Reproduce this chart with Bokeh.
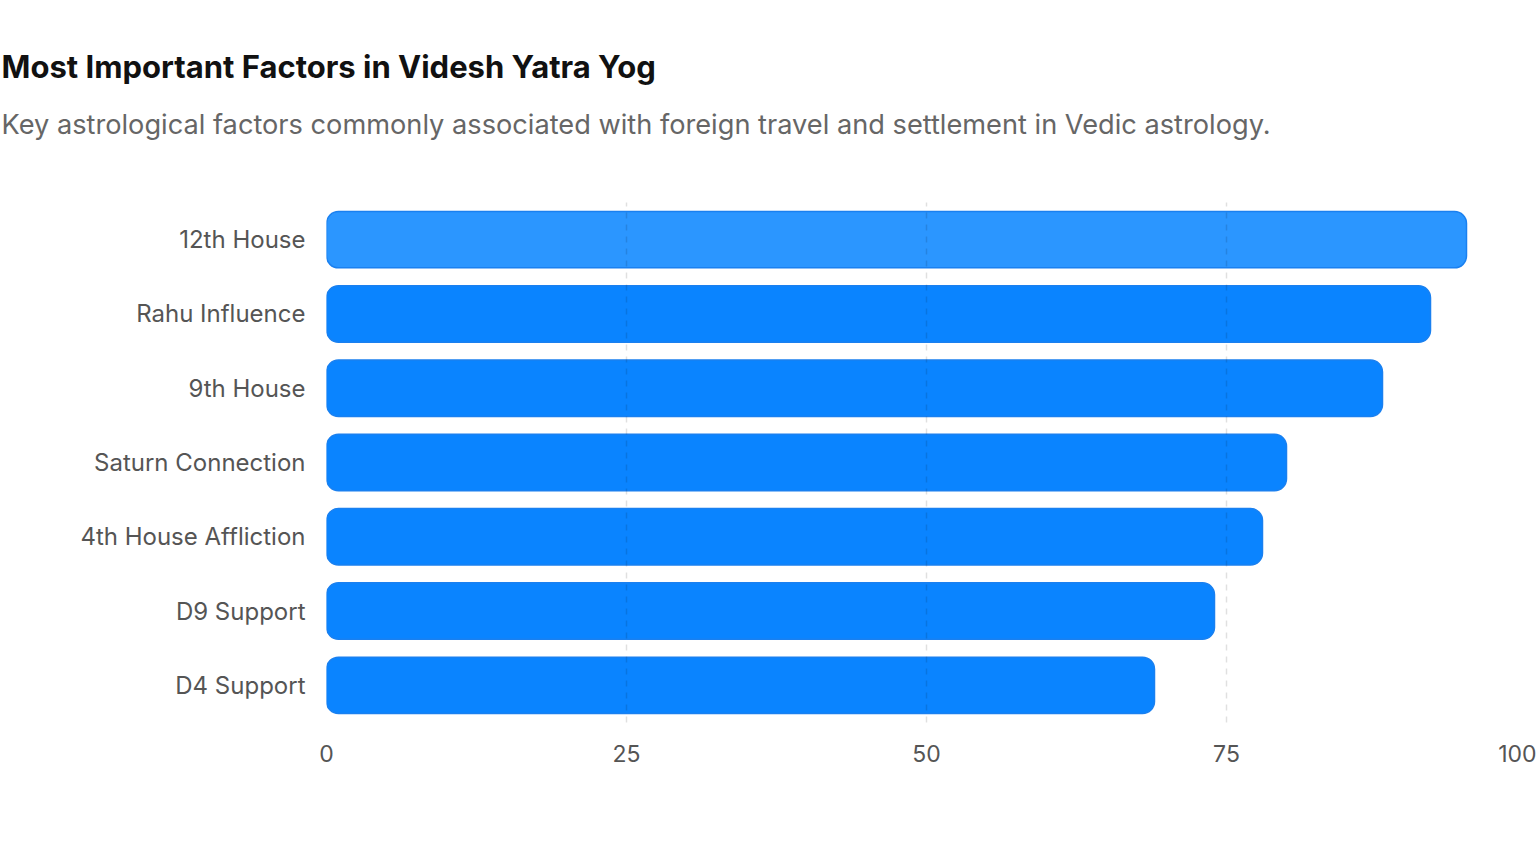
from bokeh.embed import file_html
from bokeh.models import FactorRange, FixedTicker, Range1d, Title
from bokeh.plotting import figure
from bokeh.resources import INLINE

# --- data ---
factors = [
    "12th House",
    "Rahu Influence",
    "9th House",
    "Saturn Connection",
    "4th House Affliction",
    "D9 Support",
    "D4 Support",
]
scores = [95, 92, 88, 80, 78, 74, 69]
x_ticks = [0, 25, 50, 75, 100]

title_text = "Most Important Factors in Videsh Yatra Yog"
subtitle_text = (
    "Key astrological factors commonly associated with foreign travel "
    "and settlement in Vedic astrology."
)

FONT = "Inter"
fills = ["#2B96FF"] + ["#0A84FF"] * (len(factors) - 1)

# --- figure ---
p = figure(
    width=1536,
    height=848,
    y_range=FactorRange(factors=factors[::-1], range_padding=0),
    x_range=Range1d(0, 100),
    output_backend="svg",
    toolbar_location=None,
    min_border_left=326,
    min_border_right=10,
    min_border_bottom=126,
    min_border_top=202,
)
p.outline_line_color = None
p.background_fill_color = "white"
p.border_fill_color = "white"

# header: spacer, subtitle, title (stacked upwards from the plot)
p.add_layout(Title(text=" ", text_font_size="1px", standoff=48), "above")
p.add_layout(
    Title(
        text=subtitle_text,
        text_font=FONT,
        text_font_size="27.2px",
        text_font_style="normal",
        text_color="#666666",
        align="left",
        offset=-325,
        standoff=21,
    ),
    "above",
)
p.add_layout(
    Title(
        text=title_text,
        text_font=FONT,
        text_font_size="31px",
        text_font_style="bold",
        text_color="#111111",
        align="left",
        offset=-325,
        standoff=21,
    ),
    "above",
)

# bars
p.hbar(
    y=factors,
    right=scores,
    left=0,
    height=0.76,
    fill_color=fills,
    line_color="#1A80F0",
    line_width=1.5,
    border_radius=12,
)

# x axis
p.xaxis.ticker = FixedTicker(ticks=x_ticks)
p.xaxis.axis_line_color = None
p.xaxis.major_tick_line_color = None
p.xaxis.minor_tick_line_color = None
p.xaxis.major_label_text_font = FONT
p.xaxis.major_label_text_font_size = "23px"
p.xaxis.major_label_text_color = "#555555"
p.xaxis.major_label_standoff = 16

# y axis
p.yaxis.axis_line_color = None
p.yaxis.major_tick_line_color = None
p.yaxis.minor_tick_line_color = None
p.yaxis.major_label_text_font = FONT
p.yaxis.major_label_text_font_size = "24px"
p.yaxis.major_label_text_color = "#555555"
p.yaxis.major_label_standoff = 15

# grid: faint dashes drawn over the bars
p.ygrid.grid_line_color = None
p.xgrid.ticker = FixedTicker(ticks=x_ticks)
p.xgrid.grid_line_color = "black"
p.xgrid.grid_line_alpha = 0.12
p.xgrid.grid_line_dash = "6 6"
p.xgrid.grid_line_width = 1.5
p.xgrid.level = "annotation"

open("out.html", "w").write(file_html(p, INLINE))
